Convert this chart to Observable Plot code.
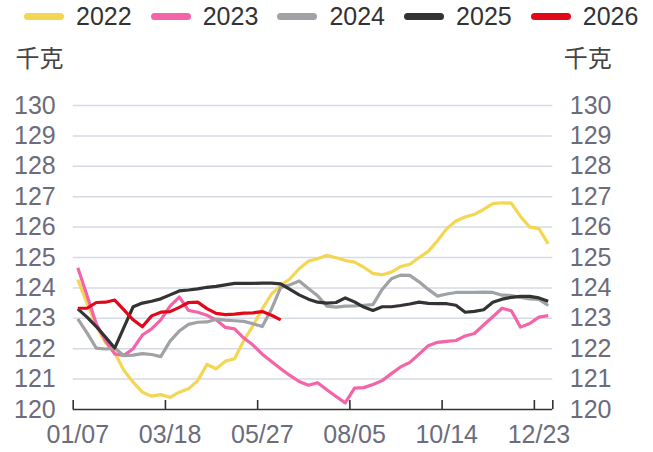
<!DOCTYPE html>
<html><head><meta charset="utf-8">
<script src="https://cdn.jsdelivr.net/npm/d3@7"></script>
<script src="https://cdn.jsdelivr.net/npm/@observablehq/plot@0.6"></script>
<style>
body{margin:0;background:#fff;font-family:"Liberation Sans","Noto Sans CJK SC",sans-serif;}
#legend{height:36px;position:relative;width:653px;}
.item{position:absolute;top:0;height:30px;display:flex;align-items:flex-start;}
.sw{width:40px;height:7px;border-radius:3.5px;margin-right:12px;margin-top:12.5px;flex:none;}
.lb{font-size:25px;color:#333;line-height:26px;margin-top:3px;white-space:nowrap;}
#chart svg{display:block;}
</style></head><body>
<div id="legend"></div><div id="chart"></div>
<script>
const years = ["2022","2023","2024","2025","2026"];
const colors = ["#f4d652","#f364a8","#a0a2a5","#333333","#e1081a"];
const tickLabels = ["01/07","03/18","05/27","08/05","10/14","12/23"];
const labelWeeks = [0,10,20,30,40,50];
const weekCount = 52;
const yTicks = [120,121,122,123,124,125,126,127,128,129,130];

const y2022 = [124.27,123.5,122.75,122.2,121.87,121.28,120.9,120.57,120.44,120.49,120.4,120.57,120.68,120.95,121.48,121.34,121.59,121.67,122.27,122.76,123.31,123.8,124.08,124.3,124.63,124.88,124.96,125.07,124.99,124.9,124.85,124.68,124.48,124.43,124.52,124.7,124.78,125.0,125.2,125.55,125.95,126.2,126.33,126.42,126.58,126.77,126.8,126.79,126.35,126.0,125.95,125.45];
const y2023 = [124.66,123.75,122.82,122.27,121.83,121.78,122.0,122.45,122.65,122.95,123.4,123.7,123.26,123.2,123.1,122.95,122.7,122.65,122.35,122.12,121.82,121.58,121.34,121.12,120.92,120.8,120.88,120.65,120.43,120.22,120.7,120.72,120.82,120.95,121.18,121.4,121.55,121.82,122.1,122.21,122.24,122.27,122.42,122.5,122.78,123.05,123.33,123.25,122.71,122.83,123.04,123.09];
const y2024 = [122.98,122.52,122.02,121.99,122.02,121.77,121.79,121.84,121.81,121.74,122.25,122.58,122.8,122.87,122.88,122.97,122.94,122.92,122.9,122.82,122.73,123.3,124.02,124.1,124.23,123.98,123.74,123.4,123.37,123.4,123.41,123.43,123.45,123.95,124.3,124.42,124.41,124.2,123.95,123.73,123.8,123.85,123.85,123.85,123.86,123.85,123.76,123.75,123.69,123.64,123.62,123.42];
const y2025 = [123.31,123.04,122.73,122.38,122.02,122.7,123.38,123.5,123.56,123.64,123.77,123.9,123.93,123.97,124.02,124.05,124.1,124.15,124.15,124.15,124.16,124.16,124.13,123.95,123.77,123.63,123.53,123.5,123.52,123.67,123.54,123.37,123.26,123.38,123.38,123.42,123.47,123.53,123.49,123.48,123.48,123.43,123.2,123.23,123.28,123.53,123.63,123.69,123.72,123.72,123.67,123.56];
const y2026 = [123.33,123.33,123.52,123.53,123.6,123.28,122.95,122.72,123.08,123.2,123.22,123.36,123.52,123.53,123.32,123.16,123.12,123.14,123.17,123.18,123.22,123.1,122.95];

const seriesValues = [y2022,y2023,y2024,y2025,y2026];

// legend
const legend = document.getElementById("legend");
years.forEach((yr,i)=>{
  const it = document.createElement("div");
  it.className="item"; it.style.left=(24+i*126.7)+"px";
  it.innerHTML=`<div class="sw" style="background:${colors[i]}"></div><div class="lb">${yr}</div>`;
  legend.appendChild(it);
});

const boundaries = [...labelWeeks, weekCount];
const lineMarks = seriesValues.map((vals,i)=>Plot.line(vals.map((v,w)=>({w,v})),{
  x: d=>d.w+0.5, y:"v", stroke: colors[i], strokeWidth:3.2, strokeLinejoin:"round", strokeLinecap:"butt"
}));

const font = '"Liberation Sans","Noto Sans CJK SC",sans-serif';
const cjk = '"Noto Sans CJK SC",sans-serif';
const chart = Plot.plot({
  width:653, height:416,
  marginTop:69, marginBottom:43, marginLeft:72.7, marginRight:100.7,
  x:{domain:[0,weekCount], axis:null},
  y:{domain:[120,130], axis:null},
  style:{fontFamily:font, background:"#fff"},
  marks:[
    Plot.gridY(yTicks.slice(1),{stroke:"#d6d9e6", strokeOpacity:1, strokeWidth:1.5}),
    Plot.axisY(yTicks,{anchor:"left", tickSize:0, tickPadding:17.5, fontSize:25, fill:"#6c6c7c", label:null}),
    Plot.axisY(yTicks,{anchor:"right", tickSize:0, tickPadding:17, fontSize:25, fill:"#6c6c7c", label:null}),
    Plot.axisX(labelWeeks.map(w=>w+0.5),{anchor:"bottom", tickSize:0, tickPadding:16, fontSize:25, fill:"#6c6c7c", label:null,
      tickFormat: d=>tickLabels[labelWeeks.indexOf(d-0.5)]}),
    Plot.text(["千克"],{frameAnchor:"top-left", dx:-57.7, dy:-46, textAnchor:"start", lineAnchor:"middle", fontSize:24, fill:"#444", fontFamily:cjk}),
    Plot.text(["千克"],{frameAnchor:"top-right", dx:11, dy:-46, textAnchor:"start", lineAnchor:"middle", fontSize:24, fill:"#444", fontFamily:cjk}),
    ...lineMarks,
    Plot.ruleY([120],{stroke:"#333", strokeWidth:1.6}),
    Plot.ruleX(boundaries,{x:d=>d, insetTop:295, stroke:"#333", strokeWidth:1.6})
  ]
});
document.getElementById("chart").appendChild(chart);
</script></body></html>
